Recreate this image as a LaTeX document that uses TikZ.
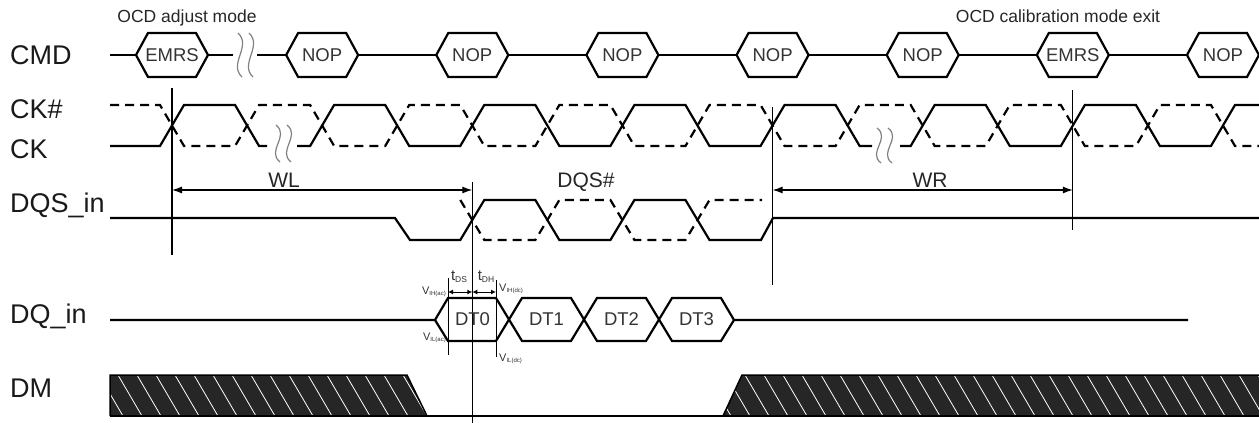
\documentclass[tikz,border=0pt]{standalone}
\usepackage{fontspec}
\setmainfont{Liberation Sans}
\usetikzlibrary{arrows.meta}
\newcommand{\mkhex}[3]{%
  \draw[hexline] ({#1-36},55) -- ({#1-24},33) -- ({#1+24},33) -- ({#1+36},55) -- ({#1+24},77) -- ({#1-24},77) -- cycle;
  \node[hextext] (#2) at (#1,55) {#3};}
\newcommand{\mksq}[3]{%
  \draw[sqline] ({#1-2},#2) .. controls ({#1+12},{#2+0.3*(#3-#2)}) and ({#1-12},{#2+0.7*(#3-#2)}) .. ({#1+2},#3);}
\newcommand{\smallV}[1]{{\fontsize{11}{11}\selectfont V}{\fontsize{6}{6}\selectfont\raisebox{-1.5pt}{#1}}}
\newcommand{\smallT}[1]{{\fontsize{15}{15}\selectfont t}{\fontsize{8.5}{8.5}\selectfont\raisebox{-2.5pt}{#1}}}
\begin{document}
\begin{tikzpicture}[x=1pt,y=-1pt,
  sig/.style={line width=2.2pt, line join=miter, miter limit=3},
  sigdash/.style={sig, dash pattern=on 9pt off 6pt},
  thinline/.style={line width=1.2pt},
  hexline/.style={sig, fill=white},
  hextext/.style={font=\fontsize{18.5}{18}\selectfont, text=black!80, inner sep=0pt},
  sqline/.style={line width=1.2pt, draw=black!50},
  lab/.style={anchor=base west, font=\fontsize{27}{30}\selectfont, text=black!90, inner sep=0pt},
  midlab/.style={anchor=base, font=\fontsize{21}{24}\selectfont, text=black!85, inner sep=0pt},
  toplab/.style={anchor=base, font=\fontsize{17.5}{20}\selectfont, text=black!85, inner sep=0pt},
  dim/.style={thinline, {Latex[length=10pt,width=7pt]}-{Latex[length=10pt,width=7pt]}},
  sdim/.style={line width=1pt, {Latex[length=5pt,width=5pt]}-{Latex[length=5pt,width=5pt]}},
  tiny/.style={inner sep=0pt, text=black!80}
]
\useasboundingbox (0,0) rectangle (1259,423);

% ---------- labels on the left ----------
\node[lab] (lcmd) at (10,64) {CMD};
\node[lab] (lckn) at (10,118) {CK\#};
\node[lab] (lck)  at (10,158) {CK};
\node[lab] (ldqs) at (10,212) {DQS\_in};
\node[lab] (ldq)  at (10,323) {DQ\_in};
\node[lab] (ldm)  at (10,397) {DM};

\node[toplab] (ocd1) at (187,23) {OCD adjust mode};
\node[toplab] (ocd2) at (1058,23) {OCD calibration mode exit};

% ---------- CMD ----------
\draw[sig] (110,55) -- (233,55);
\draw[sig] (257,55) -- (1259,55);
\mksq{240}{33}{77}\mksq{251}{33}{77}
\mkhex{172}{h0}{EMRS}
\mkhex{322.14}{h2}{NOP}
\mkhex{472.28}{h4}{NOP}
\mkhex{622.42}{h6}{NOP}
\mkhex{772.56}{h8}{NOP}
\mkhex{922.7}{h10}{NOP}
\mkhex{1072.84}{h12}{EMRS}
\mkhex{1222.98}{h14}{NOP}

% ---------- CK / CK# ----------
\draw[sig] (110,146) -- (160,146) -- (184,105) -- (235.07,105) -- (259.07,146) -- (267,146);
\draw[sig] (297,146) -- (310.14,146) -- (334.14,105) -- (385.21,105) -- (409.21,146) -- (460.28,146) -- (484.28,105) -- (535.35,105) -- (559.35,146) -- (610.42,146) -- (634.42,105) -- (685.49,105) -- (709.49,146) -- (760.56,146) -- (784.56,105) -- (835.63,105) -- (859.63,146) -- (872,146);
\draw[sig] (900,146) -- (910.7,146) -- (934.7,105) -- (985.77,105) -- (1009.77,146) -- (1060.84,146) -- (1084.84,105) -- (1135.91,105) -- (1159.91,146) -- (1210.98,146) -- (1234.98,105) -- (1259,105);
\draw[sigdash] (110,105) -- (160,105) -- (184,146) -- (235.07,146) -- (259.07,105) -- (310.14,105) -- (334.14,146) -- (385.21,146) -- (409.21,105) -- (460.28,105) -- (484.28,146) -- (535.35,146) -- (559.35,105) -- (610.42,105) -- (634.42,146) -- (685.49,146) -- (709.49,105) -- (760.56,105) -- (784.56,146) -- (835.63,146) -- (859.63,105) -- (910.7,105) -- (934.7,146) -- (985.77,146) -- (1009.77,105) -- (1060.84,105) -- (1084.84,146) -- (1135.91,146) -- (1159.91,105) -- (1210.98,105) -- (1234.98,146) -- (1259,146);
\mksq{278}{125}{162}\mksq{289}{125}{162}
\mksq{879}{128}{163}\mksq{890}{128}{163}

% ---------- reference verticals ----------
\coordinate (v0t) at (172,88);   \coordinate (v0b) at (172,255);
\coordinate (v4t) at (472.28,182); \coordinate (v4b) at (472.28,423);
\coordinate (v8t) at (772.56,107); \coordinate (v8b) at (772.56,285);
\coordinate (v12t) at (1072.84,90); \coordinate (v12b) at (1072.84,230);
\draw[thinline] (v0t) -- (v0b);
\draw[thinline] (v4t) -- (v4b);
\draw[thinline] (v8t) -- (v8b);
\draw[thinline] (v12t) -- (v12b);

% ---------- WL / WR ----------
\coordinate (wlA) at (172,190); \coordinate (wlB) at (472.28,190);
\coordinate (wrA) at (772.56,190); \coordinate (wrB) at (1072.84,190);
\draw[dim] (wlA) -- (wlB);
\draw[dim] (wrA) -- (wrB);
\node[midlab] (wl) at (284,187) {WL};
\node[midlab] (dqsn) at (586,187) {DQS\#};
\node[midlab] (wr) at (930,187) {WR};

% ---------- DQS ----------
\draw[sig] (110,218) -- (395,218) -- (410,240) -- (460.28,240) -- (484.28,200) -- (535.35,200) -- (559.35,240) -- (610.42,240) -- (634.42,200) -- (685.49,200) -- (709.49,240) -- (761,240) -- (773,218) -- (1259,218);
\draw[sigdash] (460.28,200) -- (484.28,240) -- (535.35,240) -- (559.35,200) -- (610.42,200) -- (634.42,240) -- (685.49,240) -- (709.49,200) -- (762,200);

% ---------- DQ ----------
\draw[sig] (110,320) -- (435,320) -- (448,298) -- (496,298) -- (522,341) -- (571,341) -- (597,298) -- (646,298) -- (672,341) -- (721,341) -- (734,320) -- (1188,320);
\draw[sig] (435,320) -- (448,341) -- (496,341) -- (522,298) -- (571,298) -- (597,341) -- (646,341) -- (672,298) -- (721,298) -- (734,320);
\node[hextext] (dt0) at (472.5,319) {DT0};
\node[hextext] (dt1) at (546.5,319) {DT1};
\node[hextext] (dt2) at (621.5,319) {DT2};
\node[hextext] (dt3) at (696.5,319) {DT3};

% setup / hold markers
\coordinate (sA) at (448,278); \coordinate (sB) at (448,355);
\coordinate (hA) at (496,280); \coordinate (hB) at (496,357);
\draw[line width=1pt] (sA) -- (sB);
\draw[line width=1pt] (hA) -- (hB);
\coordinate (ds1) at (448,292); \coordinate (ds2) at (472.28,292); \coordinate (dh2) at (496,292);
\draw[sdim] (ds1) -- (ds2);
\draw[sdim] (ds2) -- (dh2);
\node[tiny, anchor=base] (tds) at (459,280) {\smallT{DS}};
\node[tiny, anchor=base] (tdh) at (486,280) {\smallT{DH}};
\node[tiny, anchor=east] (vihac) at (446,292) {\smallV{IH(ac)}};
\node[tiny, anchor=west] (vihdc) at (499,289) {\smallV{IH(dc)}};
\node[tiny, anchor=east] (vilac) at (446,338) {\smallV{IL(ac)}};
\node[tiny, anchor=west] (vildc) at (499,359) {\smallV{IL(dc)}};

% ---------- DM ----------
\begin{scope}
\clip (110,375) -- (407,375) -- (427,416) -- (110,416) -- cycle
      (723,416) -- (742,375) -- (1259,375) -- (1259,416) -- cycle;
\fill[black!85] (100,370) rectangle (1259,420);
\foreach \x in {80,99,...,1259} \draw[white, line width=0.8pt] (\x,375) -- ({\x+24},416);
\end{scope}
\draw[line width=1.5pt] (110,416) -- (110,375) -- (407,375) -- (427,416);
\draw[line width=1.5pt] (723,416) -- (742,375) -- (1259,375);
\draw[line width=1.8pt] (110,416) -- (1259,416);
\end{tikzpicture}
\end{document}
